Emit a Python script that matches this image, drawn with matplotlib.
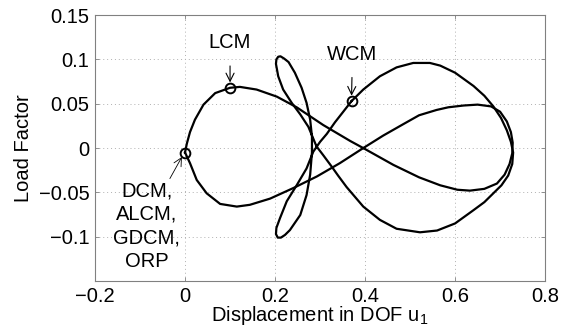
import matplotlib
matplotlib.use("Agg")
import matplotlib.pyplot as plt

plt.rcParams['font.family'] = ['Liberation Sans', 'DejaVu Sans']
plt.rcParams['mathtext.fontset'] = 'custom'
plt.rcParams['mathtext.rm'] = 'Liberation Sans'
plt.rcParams['mathtext.it'] = 'Liberation Sans'

# Path 1: left lobe and inner right lobe (figure-eight)
u1_inner = [0.000, 0.004, 0.011, 0.022, 0.041, 0.067, 0.100, 0.122, 0.159, 0.204,
            0.248, 0.307, 0.367, 0.396, 0.463, 0.520, 0.567, 0.605, 0.633, 0.665,
            0.693, 0.710, 0.721, 0.727, 0.728, 0.724, 0.715, 0.700, 0.680, 0.650,
            0.619, 0.585, 0.559, 0.520, 0.485, 0.440, 0.396, 0.344, 0.293, 0.241,
            0.189, 0.144, 0.115, 0.078, 0.048, 0.026, 0.011, 0.000]
lf_inner = [-0.005, 0.005, 0.018, 0.032, 0.049, 0.062, 0.068, 0.069, 0.066, 0.058,
            0.046, 0.026, 0.008, 0.000, -0.019, -0.033, -0.042, -0.047, -0.048, -0.046,
            -0.040, -0.030, -0.018, -0.006, 0.006, 0.018, 0.030, 0.041, 0.047, 0.049,
            0.048, 0.046, 0.043, 0.037, 0.027, 0.014, 0.000, -0.017, -0.032, -0.045,
            -0.057, -0.064, -0.066, -0.063, -0.051, -0.036, -0.017, -0.005]

# Path 2: outer right lobe and the tall narrow loop
u1_outer = [0.370, 0.396, 0.433, 0.470, 0.507, 0.544, 0.567, 0.600, 0.641, 0.665,
            0.685, 0.702, 0.715, 0.724, 0.729, 0.727, 0.718, 0.703, 0.685, 0.665,
            0.641, 0.600, 0.560, 0.522, 0.470, 0.433, 0.396, 0.359, 0.340, 0.326,
            0.307, 0.292, 0.274, 0.256, 0.237, 0.218, 0.207, 0.202, 0.203, 0.207,
            0.212, 0.220, 0.230, 0.244, 0.259, 0.270, 0.278, 0.282, 0.282, 0.278,
            0.270, 0.256, 0.233, 0.222, 0.213, 0.206, 0.202, 0.203, 0.211, 0.226,
            0.248, 0.270, 0.285, 0.300, 0.315, 0.333, 0.350, 0.370]
lf_outer = [0.053, 0.066, 0.081, 0.091, 0.096, 0.096, 0.093, 0.085, 0.070, 0.059,
            0.047, 0.034, 0.020, 0.007, -0.005, -0.018, -0.031, -0.042, -0.051, -0.061,
            -0.070, -0.085, -0.093, -0.095, -0.091, -0.081, -0.066, -0.044, -0.031, -0.021,
            -0.008, 0.002, 0.024, 0.038, 0.051, 0.066, 0.081, 0.095, 0.100, 0.103,
            0.1035, 0.101, 0.097, 0.085, 0.068, 0.051, 0.032, 0.013, -0.005, -0.030,
            -0.053, -0.0755, -0.0925, -0.098, -0.101, -0.101, -0.097, -0.090, -0.079, -0.060,
            -0.042, -0.023, -0.004, 0.007, 0.016, 0.029, 0.040, 0.053]

# Marked points
pt_names = ["DCM,\nALCM,\nGDCM,\nORP", "LCM", "WCM"]
pt_u1 = [0.0, 0.100, 0.370]
pt_lf = [-0.005, 0.068, 0.053]
label_xy = [(-0.085, -0.088), (0.100, 0.119), (0.372, 0.106)]

x_ticks = [-0.2, 0.0, 0.2, 0.4, 0.6, 0.8]
x_tick_labels = ["\u22120.2", "0", "0.2", "0.4", "0.6", "0.8"]
y_ticks = [-0.1, -0.05, 0.0, 0.05, 0.1, 0.15]
y_tick_labels = ["\u22120.1", "\u22120.05", "0", "0.05", "0.1", "0.15"]

fig = plt.figure(figsize=(5.69, 3.35), dpi=100)
ax = fig.add_axes([0.167, 0.161, 0.791, 0.794])

ax.plot(u1_inner, lf_inner, color='black', lw=1.6, solid_joinstyle='round')
ax.plot(u1_outer, lf_outer, color='black', lw=1.6, solid_joinstyle='round')
ax.plot(pt_u1, pt_lf, linestyle='none', marker='o', markersize=7,
        markerfacecolor='none', markeredgecolor='black', markeredgewidth=1.4)

# annotations
ax.annotate(pt_names[1], xy=(pt_u1[1], pt_lf[1] + 0.006), xytext=label_xy[1],
            ha='center', va='center', fontsize=14.5,
            arrowprops=dict(arrowstyle='->', color='black', lw=0.8,
                            shrinkA=8, shrinkB=0))
ax.annotate(pt_names[2], xy=(pt_u1[2], pt_lf[2] + 0.006), xytext=label_xy[2],
            ha='center', va='center', fontsize=14.5,
            arrowprops=dict(arrowstyle='->', color='black', lw=0.8,
                            shrinkA=8, shrinkB=0))
ax.annotate(pt_names[0], xy=(pt_u1[0] - 0.007, pt_lf[0] - 0.005), xytext=label_xy[0],
            ha='center', va='center', fontsize=14.5, linespacing=1.3,
            arrowprops=dict(arrowstyle='->', color='black', lw=0.6,
                            shrinkA=0, shrinkB=0, relpos=(0.8, 0.97)))

ax.set_xlim(-0.2, 0.8)
ax.set_ylim(-0.15, 0.15)
ax.set_xticks(x_ticks)
ax.set_xticklabels(x_tick_labels)
ax.set_yticks(y_ticks)
ax.set_yticklabels(y_tick_labels)
ax.tick_params(direction='in', length=3, width=0.6, color='#808080',
               labelsize=14.5, top=True, right=True, pad=4)
ax.grid(True, linestyle=(0, (1, 3)), color='#b0b0b0', linewidth=0.7)
for s in ax.spines.values():
    s.set_color('#808080')
    s.set_linewidth(0.8)

ax.set_xlabel("Displacement in DOF u$_1$", fontsize=14.5, labelpad=-1)
ax.set_ylabel("Load Factor", fontsize=14.5, labelpad=4)

fig.savefig("out.png", dpi=100)
